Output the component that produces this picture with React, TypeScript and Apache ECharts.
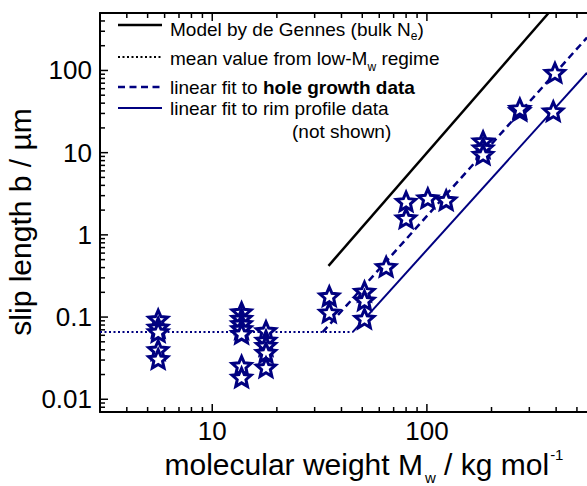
import React, { useEffect, useRef } from 'react';
import * as echarts from 'echarts';

// ---- axis ranges ----
const X_MIN = 3;
const X_MAX = 557;
const Y_MIN = 0.007;
const Y_MAX = 500;

// ---- measured data (stars): molecular weight (kg/mol) and slip length (µm) ----
const starMw = [
  5.6, 5.6, 5.6, 5.6, 5.6,
  13.7, 13.7, 13.7, 13.7, 13.7, 13.7, 13.7,
  17.8, 17.8, 17.8, 17.8, 17.8,
  35.1, 35.1,
  51.2, 51.2, 51.2,
  64.6,
  80, 80, 101, 123,
  182.7, 182.7, 182.7,
  271, 271,
  395, 388,
];
const starB = [
  0.094, 0.075, 0.066, 0.04, 0.031,
  0.115, 0.096, 0.083, 0.072, 0.063, 0.0257, 0.0185,
  0.068, 0.052, 0.045, 0.037, 0.0245,
  0.18, 0.114,
  0.205, 0.16, 0.096,
  0.41,
  2.55, 1.6, 2.8, 2.65,
  13.8, 11.4, 9.5,
  32.5, 34.5,
  94, 32,
];

// ---- lines ----
const modelMw = [34.8, 369];
const modelB = [0.42, 500];
const meanMw = [3, 45.1];
const meanB = [0.0656, 0.0656];
const holeMw = [32.7, 557];
const holeB = [0.0656, 251];
const rimMw = [45.1, 557];
const rimB = [0.0656, 94];

// ---- ticks ----
const xMajorTicks = [10, 100];
const xMinorTicks = [4, 5, 6, 7, 8, 9, 20, 30, 40, 50, 60, 70, 80, 90, 200, 300, 400, 500];
const yMajorTicks = [0.01, 0.1, 1, 10, 100];
const yMinorTicks = [
  0.008, 0.009,
  0.02, 0.03, 0.04, 0.05, 0.06, 0.07, 0.08, 0.09,
  0.2, 0.3, 0.4, 0.5, 0.6, 0.7, 0.8, 0.9,
  2, 3, 4, 5, 6, 7, 8, 9,
  20, 30, 40, 50, 60, 70, 80, 90,
  200, 300, 400, 500,
];

const NAVY = '#000080';
const FONT = '"Liberation Sans", Arial, Helvetica, sans-serif';

function starPath(): string {
  let d = '';
  for (let i = 0; i < 10; i++) {
    const r = i % 2 === 0 ? 10 : 4.6;
    const a = -Math.PI / 2 + (i * Math.PI) / 5;
    const x = 10 + r * Math.cos(a);
    const y = 10 + r * Math.sin(a);
    d += (i === 0 ? 'M' : 'L') + x.toFixed(2) + ' ' + y.toFixed(2) + ' ';
  }
  return 'path://' + d + 'Z';
}

function pairs(xs: number[], ys: number[]) {
  return xs.map((x, i) => [x, ys[i]]);
}

function powLabel(v: number) {
  const l = Math.log10(v);
  if (Math.abs(l - Math.round(l)) < 1e-6) return String(+v.toPrecision(6));
  return '';
}

const LEG = 19;
const legRich = {
  n: { fontSize: LEG, fontFamily: FONT, fill: '#000' },
  b: { fontSize: LEG, fontFamily: FONT, fontWeight: 'bold', fill: '#000' },
  e: { fontSize: 12, fontFamily: FONT, fill: '#000', padding: [14, 0, 0, 0] },
  w: { fontSize: 12, fontFamily: FONT, fill: '#000', padding: [18, 0, 0, 0] },
};

export default function App() {
  const ref = useRef<HTMLDivElement>(null);
  useEffect(() => {
    document.body.style.margin = '0';
    const chart = echarts.init(ref.current!, null, { renderer: 'svg' });

    const xTickData = [
      ...xMajorTicks.map((v) => [v, Y_MIN, 8]),
      ...xMinorTicks.map((v) => [v, Y_MIN, 5]),
    ];
    const yTickData = [
      ...yMajorTicks.map((v) => [X_MIN, v, 8]),
      ...yMinorTicks.map((v) => [X_MIN, v, 5]),
    ];

    const legendLineY = [25, 57, 87, 108];
    const legendTextY = [29, 58, 87, 108];

    const option: any = {
      animation: false,
      grid: { left: 100, right: 0, top: 13, bottom: 74 },
      xAxis: [
        {
          type: 'log',
          min: X_MIN,
          max: X_MAX,
          position: 'bottom',
          axisLine: { show: true, lineStyle: { color: '#000', width: 2 } },
          axisTick: { show: false },
          splitLine: { show: false },
          axisLabel: {
            formatter: powLabel,
            color: '#000',
            fontSize: 26,
            fontFamily: FONT,
            margin: 6,
            showMinLabel: false,
            showMaxLabel: false,
          },
        },
        {
          type: 'log',
          min: X_MIN,
          max: X_MAX,
          position: 'top',
          axisLine: { show: true, lineStyle: { color: '#000', width: 2 } },
          axisTick: { show: false },
          splitLine: { show: false },
          axisLabel: { show: false },
        },
      ],
      yAxis: {
        type: 'log',
        min: Y_MIN,
        max: Y_MAX,
        axisLine: { show: true, lineStyle: { color: '#000', width: 2 } },
        axisTick: { show: false },
        splitLine: { show: false },
        axisLabel: {
          formatter: powLabel,
          color: '#000',
          fontSize: 26,
          fontFamily: FONT,
          margin: 8,
          showMinLabel: false,
          showMaxLabel: false,
        },
      },
      series: [
        {
          type: 'custom',
          silent: true,
          data: xTickData,
          renderItem: (params: any, api: any) => {
            const x = api.value(0);
            const len = api.value(2);
            const b = api.coord([x, Y_MIN]);
            const t = api.coord([x, Y_MAX]);
            return {
              type: 'group',
              children: [
                { type: 'line', shape: { x1: b[0], y1: b[1], x2: b[0], y2: b[1] - len }, style: { stroke: '#000', lineWidth: 1.5 } },
                { type: 'line', shape: { x1: t[0], y1: t[1], x2: t[0], y2: t[1] + len }, style: { stroke: '#000', lineWidth: 1.5 } },
              ],
            };
          },
        },
        {
          type: 'custom',
          silent: true,
          data: yTickData,
          renderItem: (params: any, api: any) => {
            const y = api.value(1);
            const len = api.value(2);
            const p = api.coord([X_MIN, y]);
            return {
              type: 'line',
              shape: { x1: p[0], y1: p[1], x2: p[0] + len, y2: p[1] },
              style: { stroke: '#000', lineWidth: 1.5 },
            };
          },
        },
        {
          type: 'line',
          data: pairs(modelMw, modelB),
          symbol: 'none',
          lineStyle: { color: '#000', width: 2.5 },
        },
        {
          type: 'line',
          data: pairs(meanMw, meanB),
          symbol: 'none',
          lineStyle: { color: NAVY, width: 2, type: [2, 2.5] },
        },
        {
          type: 'line',
          data: pairs(holeMw, holeB),
          symbol: 'none',
          lineStyle: { color: NAVY, width: 2.5, type: [7, 4.5] },
        },
        {
          type: 'line',
          data: pairs(rimMw, rimB),
          symbol: 'none',
          lineStyle: { color: NAVY, width: 2 },
        },
        {
          type: 'scatter',
          data: pairs(starMw, starB),
          symbol: starPath(),
          symbolSize: 19,
          symbolKeepAspect: true,
          itemStyle: { color: '#fff', borderColor: NAVY, borderWidth: 3, opacity: 1 },
          z: 5,
        },
      ],
      graphic: [
        // legend samples
        { type: 'line', shape: { x1: 118, y1: legendLineY[0], x2: 162, y2: legendLineY[0] }, style: { stroke: '#000', lineWidth: 2.5 } },
        { type: 'line', shape: { x1: 118, y1: legendLineY[1], x2: 162, y2: legendLineY[1] }, style: { stroke: '#000', lineWidth: 2, lineDash: [2, 2.5] } },
        { type: 'line', shape: { x1: 118, y1: legendLineY[2], x2: 162, y2: legendLineY[2] }, style: { stroke: NAVY, lineWidth: 2.5, lineDash: [7, 4.5] } },
        { type: 'line', shape: { x1: 118, y1: legendLineY[3], x2: 162, y2: legendLineY[3] }, style: { stroke: NAVY, lineWidth: 2 } },
        {
          type: 'text',
          x: 170,
          y: legendTextY[0],
          style: { text: '{n|Model by de Gennes (bulk N}{e|e}{n|)}', verticalAlign: 'middle', rich: legRich },
        },
        {
          type: 'text',
          x: 170,
          y: legendTextY[1],
          style: { text: '{n|mean value from low-M}{w|w}{n| regime}', verticalAlign: 'middle', rich: legRich },
        },
        {
          type: 'text',
          x: 170,
          y: legendTextY[2],
          style: { text: '{n|linear fit to }{b|hole growth data}', verticalAlign: 'middle', rich: legRich },
        },
        {
          type: 'text',
          x: 170,
          y: legendTextY[3],
          style: { text: 'linear fit to rim profile data', fontSize: LEG, fontFamily: FONT, fill: '#000', verticalAlign: 'middle' },
        },
        {
          type: 'text',
          x: 292,
          y: 131,
          style: { text: '(not shown)', fontSize: LEG, fontFamily: FONT, fill: '#000', verticalAlign: 'middle' },
        },
        // axis titles
        {
          type: 'text',
          x: 20,
          y: 222,
          rotation: Math.PI / 2,
          style: { text: 'slip length b / µm', fontSize: 30, fontFamily: FONT, fill: '#000', align: 'center', verticalAlign: 'middle' },
        },
        {
          type: 'text',
          x: 364,
          y: 464,
          style: {
            text: '{m|molecular weight M}{s|w}{m| / kg mol}{p|-1}',
            align: 'center',
            verticalAlign: 'middle',
            rich: {
              m: { fontSize: 30, fontFamily: FONT, fill: '#000' },
              s: { fontSize: 15, fontFamily: FONT, fill: '#000', padding: [26, 0, 0, 2] },
              p: { fontSize: 15, fontFamily: FONT, fill: '#000', padding: [0, 0, 20, 1] },
            },
          },
        },
      ],
    };
    chart.setOption(option);
    return () => chart.dispose();
  }, []);
  return <div ref={ref} style={{ width: 587, height: 486 }} />;
}
